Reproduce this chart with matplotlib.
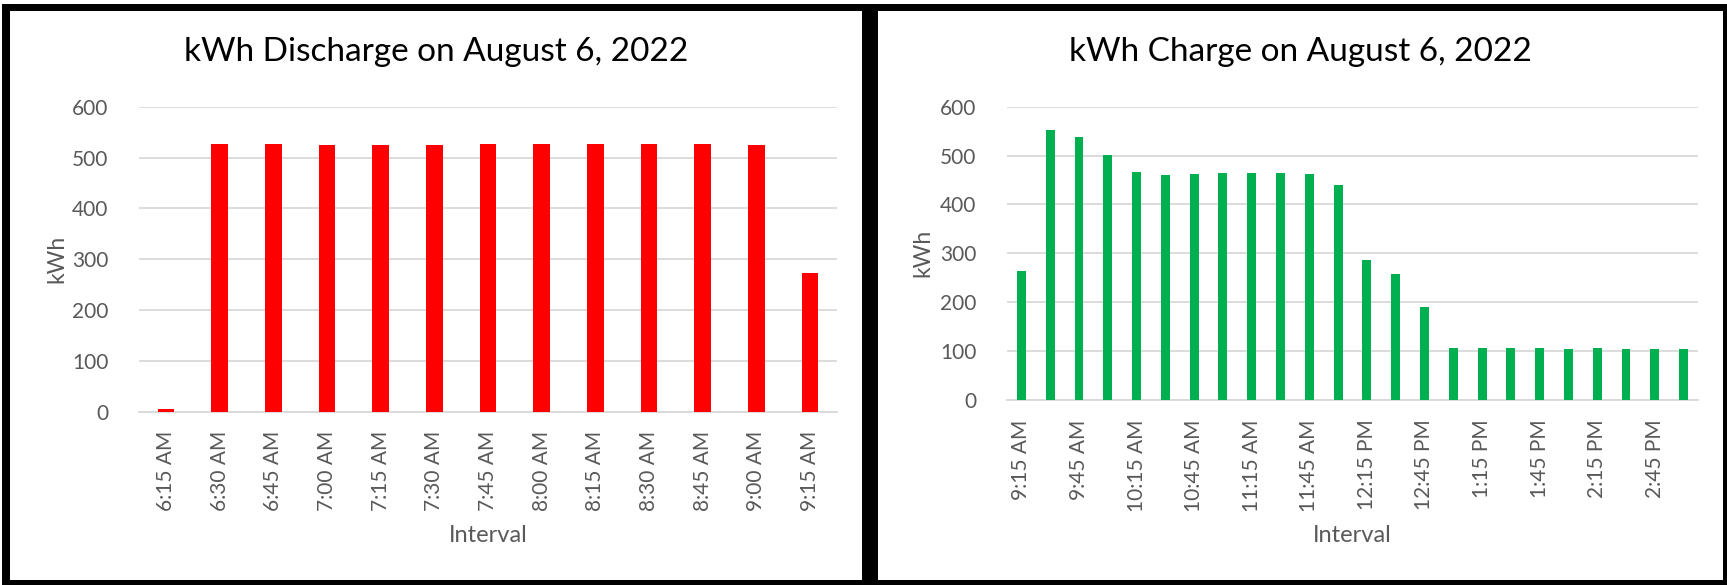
import matplotlib
matplotlib.use("Agg")
import matplotlib.pyplot as plt
from matplotlib.patches import Rectangle

# ---- data ----
discharge_labels = ["6:15 AM", "6:30 AM", "6:45 AM", "7:00 AM", "7:15 AM", "7:30 AM",
                    "7:45 AM", "8:00 AM", "8:15 AM", "8:30 AM", "8:45 AM", "9:00 AM", "9:15 AM"]
discharge_kwh = [5, 527, 527, 525, 524, 524, 526, 527, 527, 527, 526, 525, 273]

charge_labels = ["9:15 AM", "9:30 AM", "9:45 AM", "10:00 AM", "10:15 AM", "10:30 AM",
                 "10:45 AM", "11:00 AM", "11:15 AM", "11:30 AM", "11:45 AM", "12:00 PM",
                 "12:15 PM", "12:30 PM", "12:45 PM", "1:00 PM", "1:15 PM", "1:30 PM",
                 "1:45 PM", "2:00 PM", "2:15 PM", "2:30 PM", "2:45 PM", "3:00 PM"]
charge_kwh = [264, 552, 538, 502, 466, 461, 462, 464, 464, 464, 463, 439,
              287, 258, 190, 106, 106, 106, 106, 105, 106, 105, 105, 104]

y_ticks = [0, 100, 200, 300, 400, 500, 600]

W, H = 1727, 585
FONT = "Lato"
GRAY = "#595959"
GRID = "#D9D9D9"

fig = plt.figure(figsize=(W / 100, H / 100), dpi=100)
fig.patch.set_facecolor("white")


def px_rect(x0, y0, x1, y1):
    """pixel coords (top-left origin) -> figure fraction rect"""
    return [x0 / W, 1 - y1 / H, (x1 - x0) / W, (y1 - y0) / H]


# panel borders
for (x0, y0, x1, y1) in [(2, 4, 1727, 11), (2, 4, 10, 585), (862, 4, 878, 585),
                         (1723, 4, 1727, 585), (2, 580, 1727, 585)]:
    r = px_rect(x0, y0, x1, y1)
    fig.patches.append(Rectangle((r[0], r[1]), r[2], r[3], transform=fig.transFigure,
                                 facecolor="black", edgecolor="none", zorder=10))


def make_chart(px, labels, values, color, title, title_x, label_every, ylab_x):
    x0, y0, x1, y1 = px
    ax = fig.add_axes(px_rect(x0, y0, x1, y1))
    x = list(range(len(values)))
    ax.bar(x, values, width=0.31, color=color, zorder=3)
    ax.set_xlim(-0.5, len(values) - 0.5)
    ax.set_ylim(0, 600)
    ax.set_yticks(y_ticks)
    ax.set_yticklabels([str(v) for v in y_ticks], fontsize=15, color=GRAY, family=FONT)
    tick_pos = x[::label_every]
    ax.set_xticks(tick_pos)
    ax.set_xticklabels(labels[::label_every], rotation=90, fontsize=15, color=GRAY,
                       family=FONT, va="top", ha="center")
    ax.tick_params(axis="both", length=0)
    ax.tick_params(axis="y", pad=22)
    ax.tick_params(axis="x", pad=14)
    for s in ["top", "right", "left"]:
        ax.spines[s].set_visible(False)
    ax.spines["bottom"].set_color(GRID)
    ax.spines["bottom"].set_linewidth(1.3)
    ax.yaxis.grid(True, color=GRID, linewidth=1.3)
    ax.set_axisbelow(True)
    ax.set_ylabel("kWh", fontsize=16.5, color=GRAY, family=FONT)
    ax.set_xlabel("Interval", fontsize=17, color=GRAY, family=FONT)
    ax.xaxis.set_label_coords(((x0 + x1) / 2) / W, 1 - 536 / H, transform=fig.transFigure)
    ax.xaxis.label.set_va("center")
    ax.yaxis.set_label_coords(ylab_x / W, 1 - ((y0 + y1) / 2) / H, transform=fig.transFigure)
    ax.yaxis.label.set_va("center")
    fig.text(title_x / W, 1 - 52 / H, title, fontsize=24, family=FONT,
             color="black", ha="center", va="center")
    return ax


ax1 = make_chart((139, 106.7, 837, 411.7), discharge_labels, discharge_kwh,
                 "#FF0000", "kWh Discharge on August 6, 2022", 436, 1, 57)
ax2 = make_chart((1007, 106.7, 1698, 400), charge_labels, charge_kwh,
                 "#00B050", "kWh Charge on August 6, 2022", 1300, 2, 923)

fig.savefig("out.png", dpi=100, facecolor="white")
